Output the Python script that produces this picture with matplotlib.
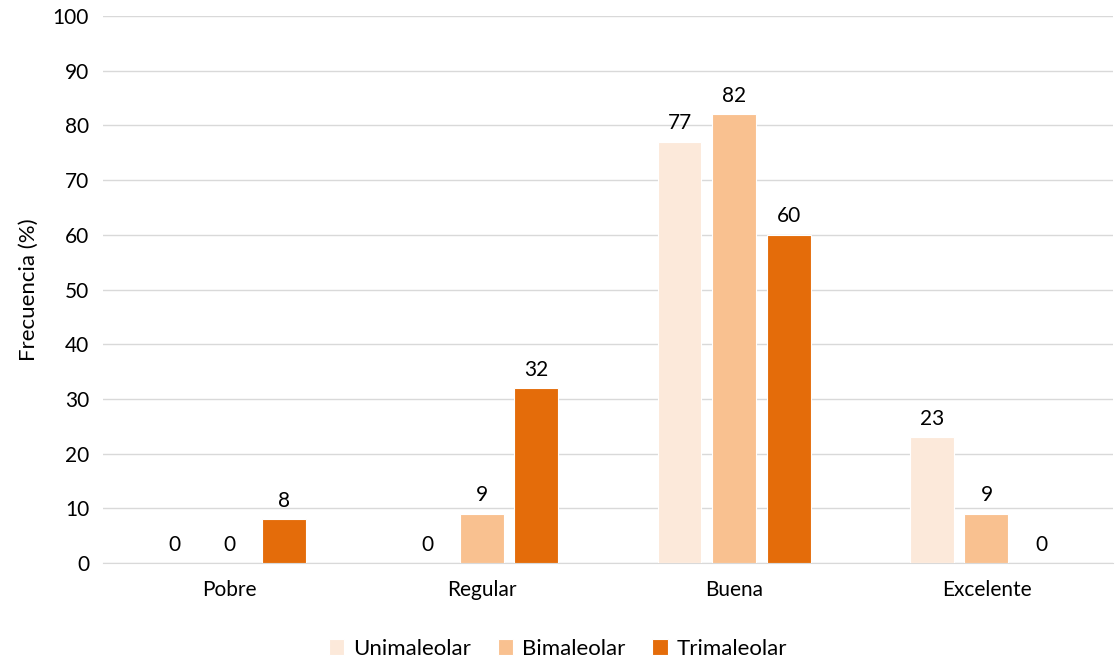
import numpy as np
import matplotlib.pyplot as plt

plt.rcParams['font.family'] = ['Lato', 'DejaVu Sans']

categories = ["Pobre", "Regular", "Buena", "Excelente"]
series = ["Unimaleolar", "Bimaleolar", "Trimaleolar"]
unimaleolar = [0, 0, 77, 23]
bimaleolar = [0, 9, 82, 9]
trimaleolar = [8, 32, 60, 0]
colors = ["#FCE9DA", "#F9C190", "#E46C0A"]

fig = plt.figure(figsize=(11.16, 6.62), dpi=100)
ax = fig.add_axes([0.0923, 0.1495, 0.9047, 0.8263])

x = np.arange(len(categories))
width = 0.174
step = 0.216
for i, (name, vals, c) in enumerate(zip(series, [unimaleolar, bimaleolar, trimaleolar], colors)):
    pos = x + (i - 1) * step
    ax.bar(pos, vals, width, color=c, edgecolor="white", linewidth=0.8, label=name, zorder=3)
    for px, v in zip(pos, vals):
        ax.annotate(str(v), (px, v), xytext=(0, 6), textcoords="offset points",
                    ha="center", va="bottom", fontsize=15)

ax.set_xlim(-0.5, len(categories) - 0.5)
ax.set_ylim(0, 100)
ax.set_yticks(range(0, 101, 10))
ax.set_xticks(x)
ax.set_xticklabels(categories)
ax.tick_params(axis="both", length=0, labelsize=15, pad=10)
ax.tick_params(axis="x", pad=12)
ax.grid(axis="y", color="#D9D9D9", linewidth=1, zorder=0)
for s in ["top", "right", "left"]:
    ax.spines[s].set_visible(False)
ax.spines["bottom"].set_color("#D9D9D9")
ax.set_ylabel("Frecuencia (%)", fontsize=16, labelpad=10)

fig.legend(loc="lower center", ncol=3, frameon=False, fontsize=16,
           bbox_to_anchor=(0.5, -0.025), handlelength=0.7, handleheight=0.7,
           columnspacing=1.2, handletextpad=0.4)

fig.savefig("out.png", dpi=100)
